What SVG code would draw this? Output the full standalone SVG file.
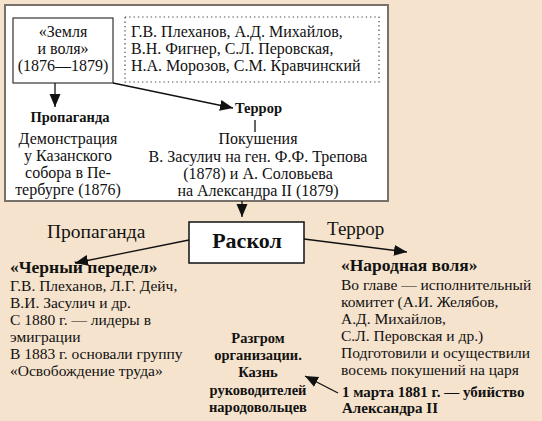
<svg xmlns="http://www.w3.org/2000/svg" width="542" height="421" viewBox="0 0 542 421" font-family="'Liberation Serif', Tinos, 'Times New Roman', 'DejaVu Serif', serif">
<style>
text{font-family:'Liberation Serif',Tinos,'Times New Roman','DejaVu Serif',serif;fill:#111}
.r{font-size:16px}
.s{font-size:15.5px}
.b{font-weight:bold}
.m{text-anchor:middle}
.ln{stroke:#111;stroke-width:1.3;fill:none}
.arr{marker-end:url(#ah)}
</style>
<defs>
<marker id="ah" markerUnits="userSpaceOnUse" markerWidth="14" markerHeight="12" refX="13" refY="5.5" orient="auto">
<path d="M0,0 L13,5.5 L0,11 Z" fill="#111"/>
</marker>
</defs>
<rect x="0" y="0" width="542" height="421" fill="#f5e3cd"/>
<g id="top-frame">
<rect x="5" y="5" width="383" height="196" fill="#fff" stroke="#77716a" stroke-width="2"/>
</g>
<g id="zemlya">
<rect x="13" y="18" width="100" height="65" fill="#fff" stroke="#333" stroke-width="1.2"/>
<text class="r m" x="63" y="37">«Земля</text>
<text class="r m" x="63" y="54">и воля»</text>
<text class="r m" x="63" y="71">(1876—1879)</text>
</g>
<g id="members">
<rect x="125" y="17" width="254" height="65" fill="none" stroke="#444" stroke-width="1.2" stroke-dasharray="1.3,3"/>
<text class="r" x="131" y="37">Г.В. Плеханов, А.Д. Михайлов,</text>
<text class="r" x="131" y="54">В.Н. Фигнер, С.Л. Перовская,</text>
<text class="r" x="131" y="71">Н.А. Морозов, С.М. Кравчинский</text>
</g>
<g id="propaganda-top">
<text class="b m" x="70" y="122" font-size="14.5">Пропаганда</text>
<text class="r m" x="68" y="144">Демонстрация</text>
<text class="r m" x="68" y="161">у Казанского</text>
<text class="r m" x="68" y="178">собора в Пе-</text>
<text class="r m" x="68" y="195">тербурге (1876)</text>
</g>
<g id="terror-top">
<text class="b" x="235" y="113" font-size="14.5">Террор</text>
<text class="r m" x="258" y="144">Покушения</text>
<text class="r m" x="258" y="162">В. Засулич на ген. Ф.Ф. Трепова</text>
<text class="r m" x="258" y="179">(1878) и А. Соловьева</text>
<text class="r m" x="258" y="196">на Александра II (1879)</text>
</g>
<g id="raskol">
<rect x="189" y="222" width="115" height="41" fill="#fff" stroke="#111" stroke-width="1.5"/>
<text class="b m" x="247" y="248" font-size="22">Раскол</text>
</g>
<g id="label-propaganda">
<text x="47" y="238" font-size="19.5">Пропаганда</text>
</g>
<g id="label-terror">
<text x="327" y="235" font-size="19">Террор</text>
</g>
<g id="cherny">
<text class="b" x="10" y="273" font-size="17.5">«Черный передел»</text>
<text class="s" x="10" y="291">Г.В. Плеханов, Л.Г. Дейч,</text>
<text class="s" x="10" y="308">В.И. Засулич и др.</text>
<text class="s" x="10" y="325">С 1880 г. — лидеры в</text>
<text class="s" x="10" y="342">эмиграции</text>
<text class="s" x="10" y="359">В 1883 г. основали группу</text>
<text class="s" x="10" y="376">«Освобождение труда»</text>
</g>
<g id="narodnaya">
<text class="b" x="341" y="271" font-size="17.5">«Народная воля»</text>
<text class="s" x="341" y="290">Во главе — исполнительный</text>
<text class="s" x="341" y="307">комитет (А.И. Желябов,</text>
<text class="s" x="341" y="324">А.Д. Михайлов,</text>
<text class="s" x="341" y="341">С.Л. Перовская и др.)</text>
<text class="s" x="341" y="358">Подготовили и осуществили</text>
<text class="s" x="341" y="375">восемь покушений на царя</text>
</g>
<g id="march">
<text class="b" x="342" y="397" font-size="15">1 марта 1881 г. — убийство</text>
<text class="b" x="342" y="413" font-size="15">Александра II</text>
</g>
<g id="razgrom">
<text class="b m" x="258" y="343" font-size="14.5">Разгром</text>
<text class="b m" x="258" y="360" font-size="14.5">организации.</text>
<text class="b m" x="258" y="377" font-size="14.5">Казнь</text>
<text class="b m" x="258" y="395" font-size="14.5">руководителей</text>
<text class="b m" x="258" y="412" font-size="14.5">народовольцев</text>
</g>
<g id="connectors">
<line class="ln arr" x1="55" y1="83" x2="55" y2="107"/>
<line class="ln arr" x1="113" y1="83" x2="233" y2="108"/>
<line class="ln" x1="255" y1="120" x2="255" y2="132"/>
<line class="ln arr" x1="242" y1="201" x2="242" y2="217"/>
<line class="ln arr" x1="189" y1="240" x2="75" y2="263"/>
<line class="ln arr" x1="304" y1="239" x2="407" y2="252"/>
<line class="ln arr" x1="338" y1="393" x2="305" y2="376"/>
</g>
</svg>
